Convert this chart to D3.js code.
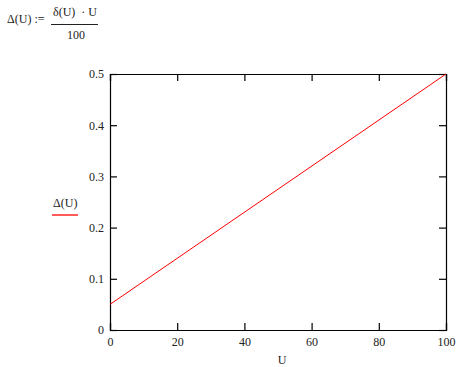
<!DOCTYPE html>
<html>
<head>
<meta charset="utf-8">
<script src="https://cdn.jsdelivr.net/npm/d3@7"></script>
<style>
  body { margin: 0; background: #fff; }
  text { font-family: "Liberation Serif", "DejaVu Serif", serif; font-size: 12px; fill: #222; }
</style>
</head>
<body>
<div id="chart"></div>
<script>
// U values and Δ(U) = δ(U)·U/100
var uValues = [0, 100];
var deltaValues = [0.05, 0.5];
var xTicks = [0, 20, 40, 60, 80, 100];
var yTicks = [0, 0.1, 0.2, 0.3, 0.4, 0.5];

var width = 472, height = 367;
var margin = { top: 74, right: 26, bottom: 37, left: 110 };
var w = width - margin.left - margin.right;
var h = height - margin.top - margin.bottom;

var svg = d3.select("#chart").append("svg")
  .attr("width", width)
  .attr("height", height);

// formula header
var f = svg.append("g");
f.append("text").attr("x", 7).attr("y", 23).text("Δ(U) :=");
f.append("text").attr("x", 53).attr("y", 16).attr("xml:space", "preserve").text("δ(U)  · U");
f.append("line").attr("x1", 51).attr("x2", 98).attr("y1", 24.5).attr("y2", 24.5)
  .attr("stroke", "#222").attr("stroke-width", 1);
f.append("text").attr("x", 76).attr("y", 39).attr("text-anchor", "middle").text("100");

var g = svg.append("g")
  .attr("transform", `translate(${margin.left}, ${margin.top})`);

var x = d3.scaleLinear().domain([0, 100]).range([0, w]);
var y = d3.scaleLinear().domain([0, 0.5]).range([h, 0]);

// axes with inward ticks
var fmtY = d => d === 0 ? "0" : d3.format(".1f")(d);

var leftAxis = g.append("g").call(d3.axisLeft(y).tickValues(yTicks).tickSize(-7).tickPadding(6).tickFormat(fmtY));
var rightAxis = g.append("g").attr("transform", `translate(${w},0)`)
  .call(d3.axisRight(y).tickValues(yTicks).tickSize(-7).tickFormat(""));
var bottomAxis = g.append("g").attr("transform", `translate(0,${h})`)
  .call(d3.axisBottom(x).tickValues(xTicks).tickSize(-7).tickPadding(5));
var topAxis = g.append("g")
  .call(d3.axisTop(x).tickValues(xTicks).tickSize(-7).tickFormat(""));

[leftAxis, rightAxis, bottomAxis, topAxis].forEach(function(a) {
  a.attr("font-family", null).attr("font-size", null);
  a.select(".domain").attr("stroke", "#000").attr("stroke-width", 1.2);
  a.selectAll(".tick line").attr("stroke", "#000").attr("stroke-width", 1.2);
  a.selectAll("text").attr("fill", "#222");
});
bottomAxis.selectAll(".tick text").attr("dy", "0.95em");

// line
var line = d3.line()
  .x((d, i) => x(uValues[i]))
  .y(d => y(d));

g.append("path")
  .datum(deltaValues)
  .attr("fill", "none")
  .attr("stroke", "#ff0000")
  .attr("stroke-width", 1)
  .attr("d", line);

// axis labels
svg.append("text")
  .attr("x", 282)
  .attr("y", 364)
  .attr("text-anchor", "middle")
  .text("U");

svg.append("text")
  .attr("x", 53)
  .attr("y", 207)
  .text("Δ(U)");
svg.append("line")
  .attr("x1", 52).attr("x2", 78)
  .attr("y1", 215).attr("y2", 215)
  .attr("stroke", "#ff0000").attr("stroke-width", 1.3);
</script>
</body>
</html>
